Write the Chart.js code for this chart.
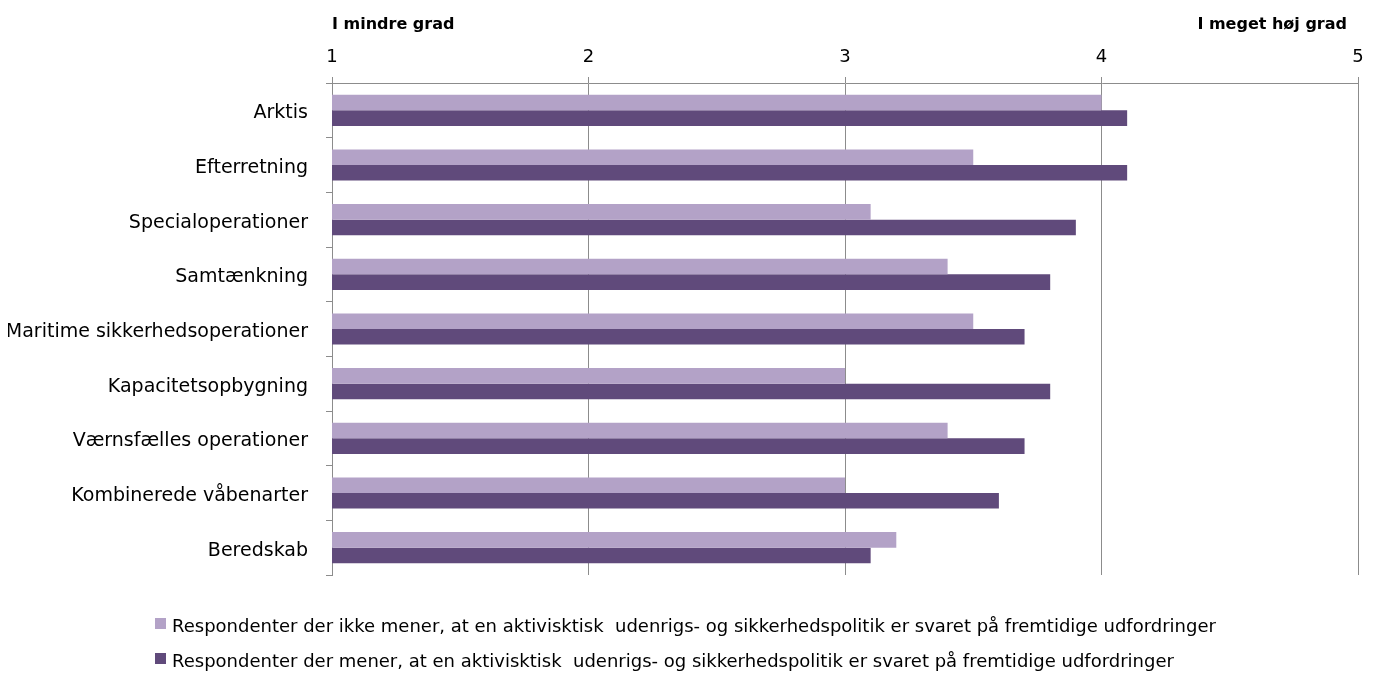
<!DOCTYPE html>
<html>
<head>
<meta charset="utf-8">
<script src="https://cdn.jsdelivr.net/npm/chart.js@4/dist/chart.umd.min.js"></script>
<style>
  html, body { margin: 0; padding: 0; background: #fff; }
  #wrap { width: 1379px; height: 680px; }
</style>
</head>
<body>
<div id="wrap"><canvas id="chart"></canvas></div>
<script>
const categories = [
    'Arktis',
    'Efterretning',
    'Specialoperationer',
    'Samtænkning',
    'Maritime sikkerhedsoperationer',
    'Kapacitetsopbygning',
    'Værnsfælles operationer',
    'Kombinerede våbenarter',
    'Beredskab'
];
const ikkeMener = [4.0, 3.5, 3.1, 3.4, 3.5, 3.0, 3.4, 3.0, 3.2];
const mener = [4.1, 4.1, 3.9, 3.8, 3.7, 3.8, 3.7, 3.6, 3.1];
const seriesLabels = [
    'Respondenter der ikke mener, at en aktivisktisk  udenrigs- og sikkerhedspolitik er svaret på fremtidige udfordringer',
    'Respondenter der mener, at en aktivisktisk  udenrigs- og sikkerhedspolitik er svaret på fremtidige udfordringer'
];
const scaleLeft = 'I mindre grad';
const scaleRight = 'I meget høj grad';

const FONT = '"DejaVu Sans", sans-serif';
const GRID = '#8c8c8c';

// Overskrifter over aksen + legende nederst
const extras = {
    id: 'extras',
    afterDraw(chart) {
        const ctx = chart.ctx;
        const x = chart.scales.x;
        ctx.save();
        ctx.fillStyle = '#000';
        ctx.font = 'bold 16px ' + FONT;
        ctx.textBaseline = 'alphabetic';
        ctx.textAlign = 'left';
        ctx.fillText(scaleLeft, x.getPixelForValue(1), 29);
        ctx.textAlign = 'right';
        ctx.fillText(scaleRight, x.getPixelForValue(5) - 11, 29);

        ctx.font = '18px ' + FONT;
        ctx.textAlign = 'left';
        chart.data.datasets.forEach((ds, i) => {
            const y = 632 + i * 35;
            ctx.fillStyle = ds.backgroundColor;
            ctx.fillRect(155, y - 14, 11, 11);
            ctx.fillStyle = '#000';
            ctx.fillText(ds.label, 172, y);
        });
        ctx.restore();
    }
};

new Chart(document.getElementById('chart'), {
    type: 'bar',
    data: {
        labels: categories,
        datasets: [{
            label: seriesLabels[0],
            data: ikkeMener,
            backgroundColor: '#B3A2C7',
            categoryPercentage: 0.57,
            barPercentage: 1
        }, {
            label: seriesLabels[1],
            data: mener,
            backgroundColor: '#604A7B',
            categoryPercentage: 0.57,
            barPercentage: 1
        }]
    },
    options: {
        indexAxis: 'y',
        responsive: true,
        maintainAspectRatio: false,
        animation: false,
        layout: {
            padding: { left: 8, right: 21, top: 40, bottom: 105 }
        },
        plugins: {
            legend: { display: false },
            tooltip: { enabled: false }
        },
        scales: {
            x: {
                position: 'top',
                min: 1,
                max: 5,
                ticks: {
                    stepSize: 1,
                    padding: 9,
                    color: '#000',
                    font: { family: FONT, size: 18 }
                },
                grid: {
                    color: GRID,
                    lineWidth: 1,
                    tickLength: 6
                },
                border: { color: GRID, width: 1 },
                afterFit(scale) { scale.height = 43; }
            },
            y: {
                ticks: {
                    padding: 18,
                    labelOffset: 3,
                    color: '#000',
                    font: { family: FONT, size: 19 }
                },
                grid: {
                    drawOnChartArea: false,
                    color: GRID,
                    tickLength: 6
                },
                border: { color: GRID, width: 1 },
                afterFit(scale) { scale.width = 324; }
            }
        }
    },
    plugins: [extras]
});
</script>
</body>
</html>
